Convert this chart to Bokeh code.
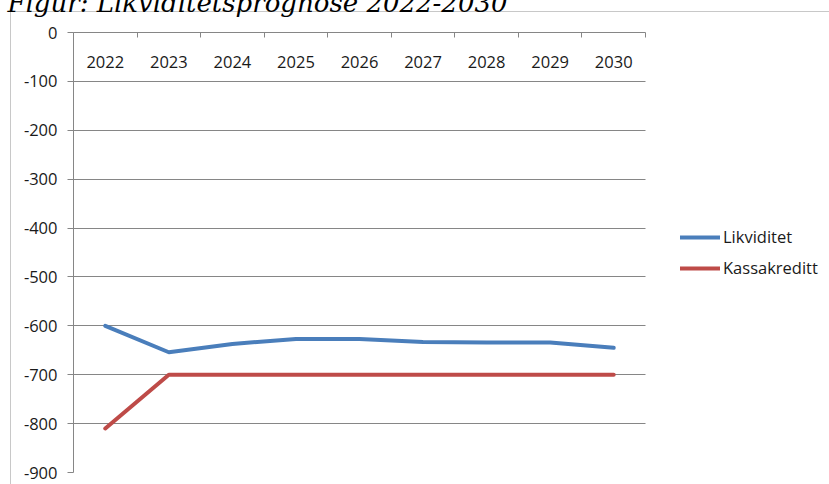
from bokeh.plotting import figure
from bokeh.models import (Range1d, FixedTicker, Legend, LegendItem,
                          LinearAxis, InlineStyleSheet, BoxAnnotation)
from bokeh.core.properties import value
from bokeh.embed import file_html
from bokeh.resources import INLINE

# ---- data ----
years = ["2022", "2023", "2024", "2025", "2026", "2027", "2028", "2029", "2030"]
likviditet = [-600, -654, -637, -627, -627, -633, -634, -634, -645]
kassakreditt = [-810, -700, -700, -700, -700, -700, -700, -700, -700]
y_ticks = [0, -100, -200, -300, -400, -500, -600, -700, -800, -900]
y_labels = [str(v) for v in y_ticks]
title_text = "Figur: Likviditetsprognose 2022-2030"

BLUE = "#4A7EBB"
RED = "#BE4B48"
GRID = "#868686"
FONT = "Open Sans"
FS = "16.5px"

n = len(years)
xs = [i + 0.5 for i in range(n)]

CUT = 29          # the source's title is cut at the top edge
PLOT_W = 572      # width of the category area in px
LEFT = 73
W = 829

p = figure(width=W, height=484 + CUT, output_backend="svg", toolbar_location=None,
           x_range=Range1d(0, n * (W - LEFT) / PLOT_W), y_range=Range1d(-900, 0),
           x_axis_location=None, y_axis_location=None,
           min_border_left=LEFT, min_border_right=0, min_border_top=32 + CUT,
           min_border_bottom=12)
css = (":host { margin-top: -%dpx !important; "
       "background: linear-gradient(#C8C8C8,#C8C8C8) 10px %dpx / 1px 100%% no-repeat, "
       "linear-gradient(#C8C8C8,#C8C8C8) 10px %dpx / 100%% 1px no-repeat, white !important; }"
       % (CUT, 11 + CUT, 11 + CUT))
p.stylesheets = [InlineStyleSheet(css=css)]
p.outline_line_color = None
p.background_fill_color = "white"
p.border_fill_alpha = 0

# y axis
yax = LinearAxis(ticker=FixedTicker(ticks=y_ticks),
                 major_label_overrides=dict(zip(y_ticks, y_labels)))
yax.axis_line_color = GRID
yax.major_tick_line_color = GRID
yax.major_tick_in = 0
yax.major_tick_out = 6
yax.minor_tick_line_color = None
yax.major_label_standoff = 10
yax.major_label_text_font = FONT
yax.major_label_text_font_size = FS
yax.major_label_text_color = "#1a1a1a"
p.add_layout(yax, "left")

# x axis at top (y = 0) with ticks between categories
xax = LinearAxis(ticker=FixedTicker(ticks=list(range(n + 1))), bounds=(0, n))
xax.axis_line_color = GRID
xax.major_tick_line_color = GRID
xax.major_tick_in = 5
xax.major_tick_out = 0
xax.minor_tick_line_color = None
xax.major_label_text_alpha = 0
xax.major_label_text_font_size = "1px"
xax.major_label_standoff = 0
p.add_layout(xax, "above")

p.xgrid.visible = False
p.ygrid.ticker = FixedTicker(ticks=y_ticks)
p.ygrid.grid_line_color = GRID
p.ygrid.grid_line_width = 1

# blank the grid to the right of the category area (legend zone)
p.add_layout(BoxAnnotation(left=n, fill_color="white", fill_alpha=1,
                           line_color=None, level="underlay"))

# category labels under the top axis
p.text(x=xs, y=[0] * n, text=years, text_font=value(FONT),
       text_font_size=FS, text_align="center", text_baseline="alphabetic",
       y_offset=29, text_color="#1a1a1a")

r1 = p.line(xs, likviditet, line_color=BLUE, line_width=4, line_cap="round",
            line_join="round")
r2 = p.line(xs, kassakreditt, line_color=RED, line_width=4, line_cap="round",
            line_join="round")

legend = Legend(items=[LegendItem(label="Likviditet", renderers=[r1]),
                       LegendItem(label="Kassakreditt", renderers=[r2])],
                location=(607, 193), orientation="vertical")
legend.background_fill_alpha = 0
legend.border_line_color = None
legend.padding = 0
legend.margin = 0
legend.spacing = 8
legend.glyph_width = 40
legend.glyph_height = 20
legend.label_height = 20
legend.label_standoff = 3
legend.label_text_font = FONT
legend.label_text_font_size = FS
legend.label_text_color = "#1a1a1a"
p.add_layout(legend, "center")

# title (cut at the top as in the source)
p.title.text = title_text
p.title.text_font = "DejaVu Serif"
p.title.text_font_style = "italic"
p.title.text_font_size = "26px"
p.title.text_color = "#000000"
p.title.align = "left"
p.title.offset = -66
p.title.standoff = 29
p.title.vertical_align = "bottom"

open("out.html", "w").write(file_html(p, INLINE))
